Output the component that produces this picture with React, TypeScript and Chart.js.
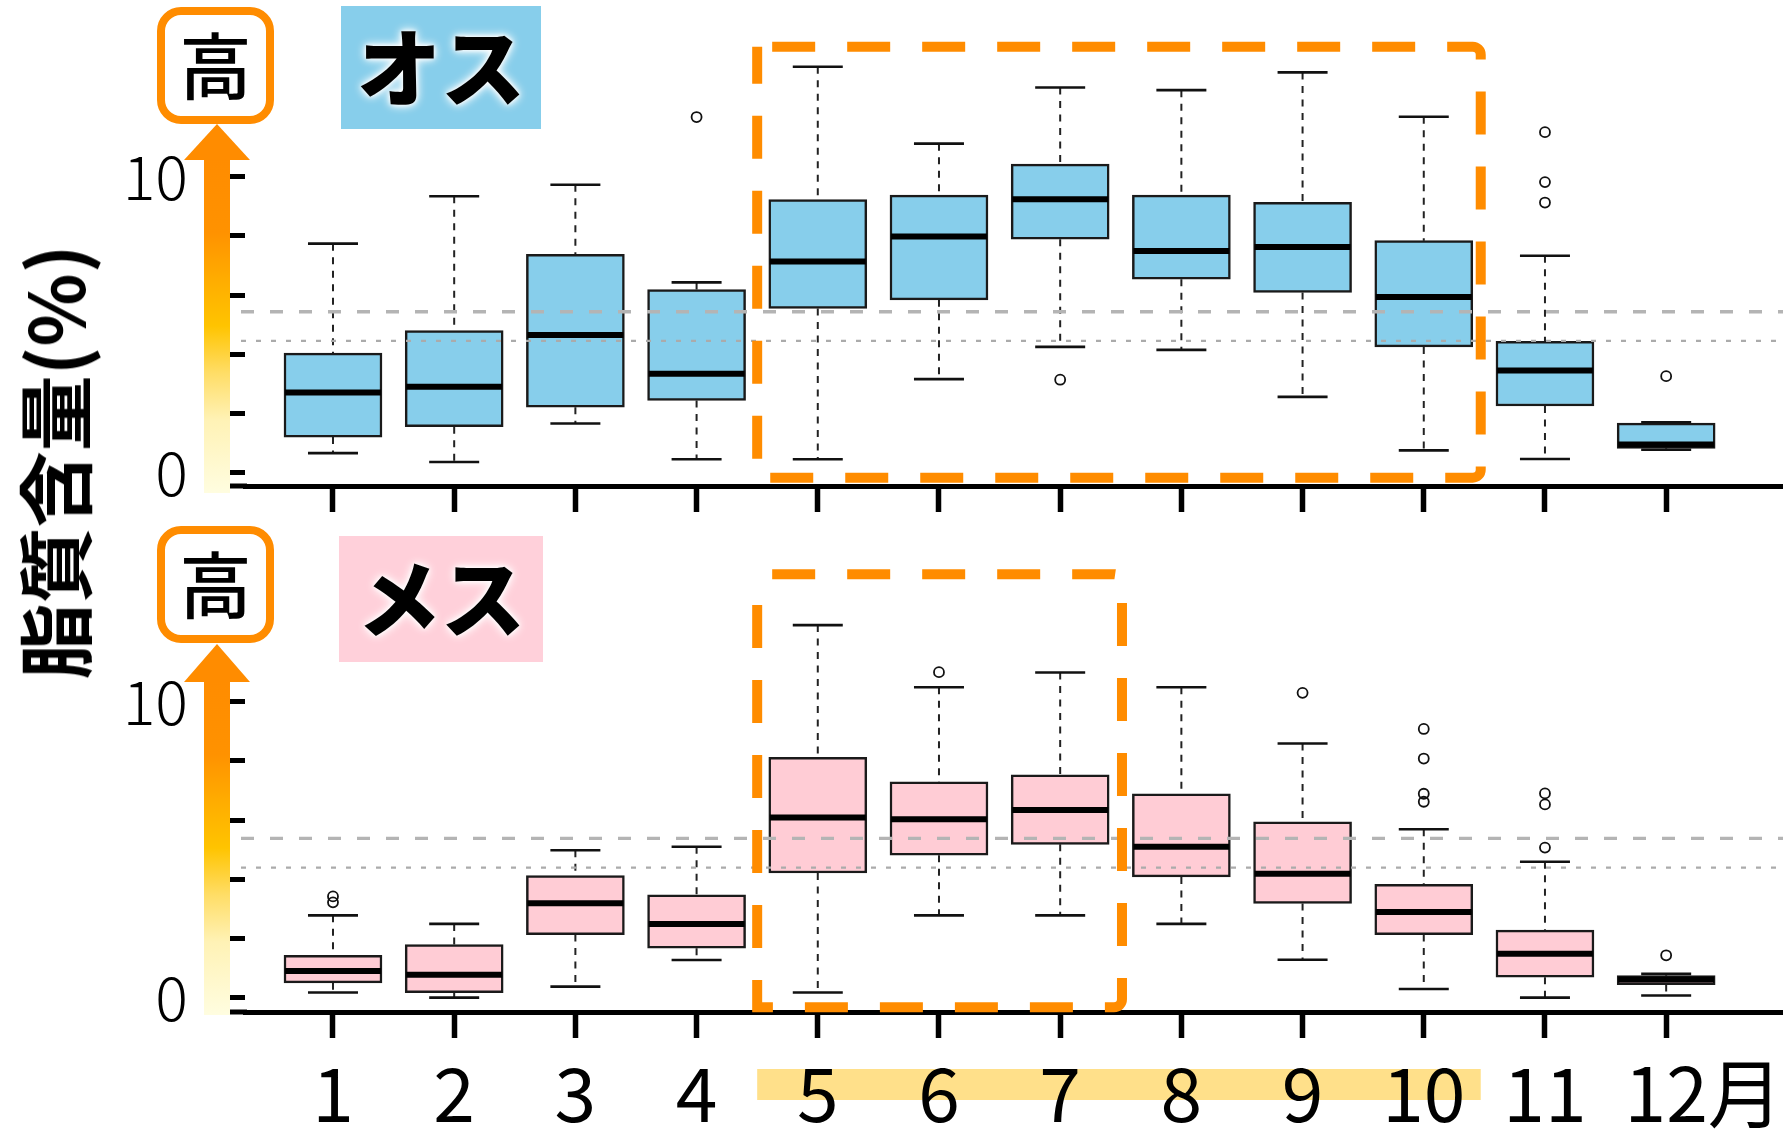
import React, { useEffect, useRef } from 'react';
import { Chart, registerables } from 'chart.js';

Chart.register(...registerables);

// ---------- data ----------
const months = [1, 2, 3, 4, 5, 6, 7, 8, 9, 10, 11, 12];
const monthLabels = ['1', '2', '3', '4', '5', '6', '7', '8', '9', '10', '11', '\u300012月'];
const yTickValues = [0, 2, 4, 6, 8, 10];
const yLabelValues = [0, 10];

// オス (male)
const maleLow = [0.66, 0.36, 1.66, 0.45, 0.45, 3.16, 4.25, 4.15, 2.56, 0.75, 0.46, 0.77];
const maleQ1 = [1.2, 1.55, 2.21, 2.44, 5.55, 5.84, 7.89, 6.54, 6.09, 4.25, 2.25, 0.82];
const maleMedian = [2.71, 2.9, 4.65, 3.34, 7.14, 7.98, 9.24, 7.49, 7.63, 5.94, 3.45, 0.95];
const maleQ3 = [4.04, 4.8, 7.38, 6.19, 9.23, 9.38, 10.43, 9.38, 9.14, 7.84, 4.44, 1.67];
const maleHigh = [7.74, 9.34, 9.73, 6.43, 13.72, 11.12, 13.02, 12.93, 13.53, 12.03, 7.33, 1.7];
const maleOutliers = [[], [], [], [12.02], [], [], [3.14], [], [], [], [11.51, 9.82, 9.13], [3.26]];
const maleRefLines = [5.44, 4.45];
const maleZone = [4.5, 10.47, 14.4, -0.17];

// メス (female)
const femaleLow = [0.17, 0.0, 0.37, 1.27, 0.17, 2.78, 2.78, 2.49, 1.28, 0.29, 0.0, 0.07];
const femaleQ1 = [0.5, 0.17, 2.13, 1.67, 4.21, 4.81, 5.18, 4.08, 3.18, 2.13, 0.69, 0.44];
const femaleMedian = [0.9, 0.77, 3.19, 2.49, 6.09, 6.03, 6.34, 5.1, 4.19, 2.89, 1.48, 0.61];
const femaleQ3 = [1.43, 1.79, 4.12, 3.47, 8.12, 7.29, 7.53, 6.89, 5.94, 3.83, 2.28, 0.74];
const femaleHigh = [2.78, 2.49, 4.98, 5.1, 12.59, 10.49, 10.99, 10.49, 8.59, 5.69, 4.59, 0.8];
const femaleOutliers = [[3.42, 3.22], [], [], [], [], [11.0], [], [], [10.3], [9.08, 8.08, 6.89, 6.62], [6.9, 6.53, 5.07], [1.43]];
const femaleRefLines = [5.38, 4.39];
const femaleZone = [4.5, 7.51, 14.31, -0.33];

const labelBand = [4.5, 10.47];

// ---------- styling ----------
const FONT = "'Noto Sans CJK JP', 'Noto Sans', sans-serif";
const ORANGE = '#FF8C00';

const decorPlugin = {
  id: 'panelDecor',
  beforeDraw(chart: any, _args: any, opts: any) {
    if (!opts.band) return;
    const { ctx, chartArea } = chart;
    const xs = chart.scales.x;
    const x0 = xs.getPixelForValue(opts.band[0]);
    const x1 = xs.getPixelForValue(opts.band[1]);
    ctx.save();
    ctx.fillStyle = '#FFE08A';
    ctx.fillRect(x0, chartArea.bottom + 57, x1 - x0, 31);
    ctx.restore();
  },
  afterDatasetsDraw(chart: any, _args: any, opts: any) {
    const { ctx, chartArea } = chart;
    const xs = chart.scales.x;
    const ys = chart.scales.y;
    ctx.save();
    // reference lines
    let y = ys.getPixelForValue(opts.ref[0]);
    ctx.strokeStyle = '#B4B4B4';
    ctx.lineWidth = 3.4;
    ctx.setLineDash([13, 16]);
    ctx.beginPath();
    ctx.moveTo(chartArea.left - 4, y);
    ctx.lineTo(chartArea.right, y);
    ctx.stroke();
    y = ys.getPixelForValue(opts.ref[1]);
    ctx.strokeStyle = '#ABABAB';
    ctx.lineWidth = 2.2;
    ctx.setLineDash([5, 10]);
    ctx.beginPath();
    ctx.moveTo(chartArea.left - 4, y);
    ctx.lineTo(chartArea.right, y);
    ctx.stroke();
    // orange dashed highlight zone
    const zx0 = xs.getPixelForValue(opts.zone[0]);
    const zx1 = xs.getPixelForValue(opts.zone[1]);
    const zy0 = ys.getPixelForValue(opts.zone[2]);
    const zy1 = ys.getPixelForValue(opts.zone[3]);
    ctx.strokeStyle = ORANGE;
    ctx.lineWidth = 10;
    ctx.setLineDash([43, 32]);
    ctx.lineDashOffset = 60;
    ctx.beginPath();
    ctx.roundRect(zx0, zy0, zx1 - zx0, zy1 - zy0, [0, 8, 8, 0]);
    ctx.stroke();
    // axis line extension to the left
    ctx.setLineDash([]);
    ctx.strokeStyle = '#000';
    ctx.lineWidth = 5;
    ctx.beginPath();
    ctx.moveTo(chartArea.left - 26, chartArea.bottom);
    ctx.lineTo(chartArea.left + 2, chartArea.bottom);
    ctx.stroke();
    ctx.restore();
  },
};

type Panel = {
  low: number[]; q1: number[]; median: number[]; q3: number[]; high: number[];
  outliers: number[][]; ref: number[]; zone: number[]; fill: string;
  yMin: number; yMax: number; axisHeight: number; showLabels: boolean; band: number[] | null;
};

function zeroPad(s: any) {
  s.paddingTop = 0;
  s.paddingBottom = 0;
  s.paddingLeft = 0;
  s.paddingRight = 0;
}

function makeConfig(p: Panel): any {
  const boxData = months.map((m, i) => ({ x: m, y: [p.q1[i], p.q3[i]] }));
  const whiskerData = months.flatMap((m, i) => [
    { x: m, y: p.high[i] }, { x: m, y: p.q3[i] }, { x: m, y: null },
    { x: m, y: p.q1[i] }, { x: m, y: p.low[i] }, { x: m, y: null },
  ]);
  const capData = months.flatMap((m, i) => [{ x: m, y: p.high[i] }, { x: m, y: p.low[i] }]);
  const medianData = months.map((m, i) => ({ x: m, y: p.median[i] }));
  const outlierData = p.outliers.flatMap((arr, i) => arr.map((v) => ({ x: months[i], y: v })));

  return {
    type: 'bar',
    data: {
      datasets: [
        {
          type: 'line', data: whiskerData, order: 4, borderColor: '#222', borderWidth: 2,
          borderDash: [7, 6.5], pointRadius: 0, spanGaps: false, fill: false, tension: 0,
        },
        {
          type: 'bar', data: boxData, order: 3, backgroundColor: p.fill, borderColor: '#1a1a1a',
          borderWidth: 2.5, borderSkipped: false, barThickness: 98, grouped: false,
        },
        {
          type: 'scatter', data: capData, order: 2, pointStyle: 'line', pointRadius: 25,
          pointBorderWidth: 2.6, pointBorderColor: '#111', showLine: false,
        },
        {
          type: 'scatter', data: medianData, order: 1, pointStyle: 'line', pointRadius: 48,
          pointBorderWidth: 6, pointBorderColor: '#000', showLine: false,
        },
        {
          type: 'scatter', data: outlierData, order: 0, pointStyle: 'circle', pointRadius: 5,
          pointBorderWidth: 1.8, pointBorderColor: '#111', pointBackgroundColor: 'rgba(255,255,255,0)',
          showLine: false,
        },
      ],
    },
    options: {
      responsive: false,
      maintainAspectRatio: false,
      animation: false,
      events: [],
      layout: { padding: { top: 6, left: 0, right: 0, bottom: 0 }, autoPadding: false },
      plugins: {
        legend: { display: false },
        title: { display: false },
        tooltip: { enabled: false },
        panelDecor: { ref: p.ref, zone: p.zone, band: p.band },
      },
      scales: {
        x: {
          type: 'linear', min: 0.274, max: 12.964, offset: false,
          afterBuildTicks: (s: any) => { s.ticks = months.map((v) => ({ value: v })); },
          afterFit: (s: any) => { s.height = p.axisHeight; zeroPad(s); },
          grid: { offset: false, drawOnChartArea: false, drawTicks: true, tickLength: 26, tickWidth: 5.5, tickColor: '#000' },
          border: { display: true, width: 5, color: '#000' },
          ticks: {
            display: p.showLabels, autoSkip: false, maxRotation: 0, minRotation: 0, padding: 10, color: '#000',
            font: { family: FONT, size: 75, weight: 400 },
            callback: (v: any) => { const i = months.indexOf(v); return i >= 0 ? monthLabels[i] : ''; },
          },
        },
        y: {
          type: 'linear', min: p.yMin, max: p.yMax,
          afterBuildTicks: (s: any) => { s.ticks = yTickValues.map((v) => ({ value: v })); },
          afterFit: (s: any) => { s.width = 245; zeroPad(s); },
          grid: { drawOnChartArea: false, drawTicks: true, tickLength: 15, tickWidth: 5, tickColor: '#000' },
          border: { display: false },
          ticks: {
            padding: 42, color: '#000', font: { family: FONT, size: 61, weight: 300 },
            callback: (v: any) => (yLabelValues.includes(v) ? String(v) : ''),
          },
        },
      },
    },
    plugins: [decorPlugin],
  };
}

const malePanel: Panel = {
  low: maleLow, q1: maleQ1, median: maleMedian, q3: maleQ3, high: maleHigh, outliers: maleOutliers,
  ref: maleRefLines, zone: maleZone, fill: '#87CEEB', yMin: -0.453, yMax: 15.774, axisHeight: 34,
  showLabels: false, band: null,
};
const femalePanel: Panel = {
  low: femaleLow, q1: femaleQ1, median: femaleMedian, q3: femaleQ3, high: femaleHigh, outliers: femaleOutliers,
  ref: femaleRefLines, zone: femaleZone, fill: '#FFCCD5', yMin: -0.487, yMax: 15.94, axisHeight: 123,
  showLabels: true, band: labelBand,
};

const arrowGradient =
  'linear-gradient(to bottom, #FF8C00 0%, #FF9200 22%, #FFB000 38%, #FFC400 50%, #FFDD66 64%, #FFF2B5 78%, #FFFDE0 100%)';

function Arrow({ top, headBase, bottom }: { top: number; headBase: number; bottom: number }) {
  return (
    <>
      <div style={{ position: 'absolute', left: 204, top: headBase - 1, width: 26, height: bottom - headBase + 1, background: arrowGradient }} />
      <div style={{
        position: 'absolute', left: 184, top, width: 0, height: 0,
        borderLeft: '33px solid transparent', borderRight: '33px solid transparent',
        borderBottom: `${headBase - top}px solid ${ORANGE}`,
      }} />
    </>
  );
}

function HighBox({ top }: { top: number }) {
  return (
    <div style={{
      position: 'absolute', left: 157, top, width: 117, height: 117, boxSizing: 'border-box',
      border: `8px solid ${ORANGE}`, borderRadius: 24, background: '#fff', display: 'flex',
      alignItems: 'center', justifyContent: 'center', fontFamily: FONT, fontSize: 72, fontWeight: 500,
      color: '#000', lineHeight: 1, paddingBottom: 8,
    }}>高</div>
  );
}

function SexLabel({ top, left, width, height, bg, text }: any) {
  return (
    <div style={{
      position: 'absolute', left, top, width, height, background: bg, display: 'flex',
      alignItems: 'center', justifyContent: 'center', fontFamily: FONT, fontSize: 84, fontWeight: 900,
      color: '#000', lineHeight: 1, paddingBottom: 8, boxSizing: 'border-box',
      textShadow: '0 0 4px #fff, 0 0 8px #fff, 0 0 12px rgba(255,255,255,0.8)',
    }}>{text}</div>
  );
}

export default function App() {
  const topRef = useRef<HTMLCanvasElement>(null);
  const botRef = useRef<HTMLCanvasElement>(null);

  useEffect(() => {
    const c1 = new Chart(topRef.current as HTMLCanvasElement, makeConfig(malePanel));
    const c2 = new Chart(botRef.current as HTMLCanvasElement, makeConfig(femalePanel));
    return () => { c1.destroy(); c2.destroy(); };
  }, []);

  return (
    <div style={{ position: 'absolute', left: 0, top: 0, width: 1783, height: 1135, background: '#fff', overflow: 'hidden' }}>
      <canvas ref={topRef} width={1783} height={520} style={{ position: 'absolute', left: 0, top: 0, width: 1783, height: 520 }} />
      <canvas ref={botRef} width={1783} height={615} style={{ position: 'absolute', left: 0, top: 520, width: 1783, height: 615 }} />
      <Arrow top={124} headBase={160} bottom={493} />
      <Arrow top={644} headBase={682} bottom={1015} />
      <HighBox top={7} />
      <HighBox top={526} />
      <SexLabel left={341} top={6} width={200} height={123} bg="#87CEEB" text="オス" />
      <SexLabel left={339} top={536} width={204} height={126} bg="#FFD0DA" text="メス" />
      <div style={{
        position: 'absolute', left: 51.5, top: 462, transform: 'translate(-50%, -50%) rotate(-90deg)',
        fontFamily: FONT, fontSize: 76, fontWeight: 700, color: '#000', whiteSpace: 'nowrap', lineHeight: 1,
      }}>脂質含量(%)</div>
    </div>
  );
}
